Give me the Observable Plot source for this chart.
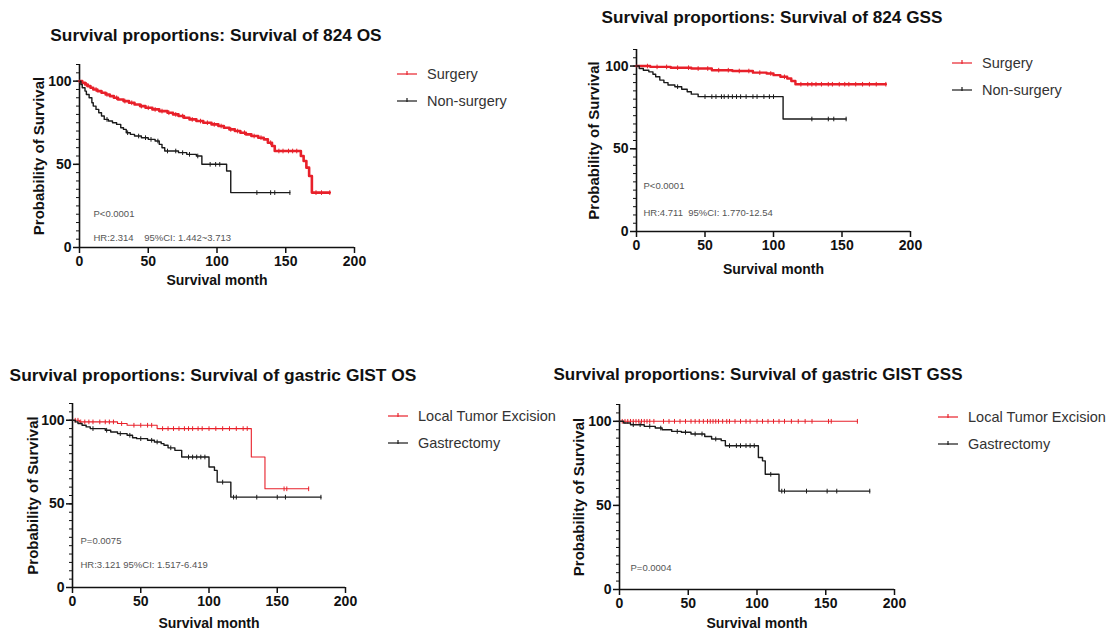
<!DOCTYPE html>
<html>
<head>
<meta charset="utf-8">
<script src="https://cdn.jsdelivr.net/npm/d3@7"></script>
<script src="https://cdn.jsdelivr.net/npm/@observablehq/plot@0.6"></script>
<style>
  body { margin: 0; background: #fff; }
  #root { position: relative; width: 1108px; height: 635px; background: #fff; font-family: "Liberation Sans", Arial, sans-serif; overflow: hidden; }
  .title { position: absolute; font-weight: bold; color: #111; white-space: nowrap; transform: translate(-50%, -50%); }
  .legend { position: absolute; font-size: 14.5px; color: #333; }
  .legend .row { display: flex; align-items: center; height: 27px; white-space: nowrap; }
  .legend svg { margin-right: 10px; }
  .panel { position: absolute; }
</style>
</head>
<body>
<div id="root"></div>
<script>
// ---------- tick labels ----------
const xTicks = [0, 50, 100, 150, 200];
const yTicks = [0, 50, 100];
const yMinorTicks = [0, 5, 10, 15, 20, 25, 30, 35, 40, 45, 50, 55, 60, 65, 70, 75, 80, 85, 90, 95, 100, 105, 110];

// ---------- titles / labels ----------
const titles = [
  "Survival proportions: Survival of 824 OS",
  "Survival proportions: Survival of 824 GSS",
  "Survival proportions: Survival of gastric GIST OS",
  "Survival proportions: Survival of gastric GIST GSS"
];
const groups824 = ["Surgery", "Non-surgery"];
const groupsGastric = ["Local Tumor Excision", "Gastrectomy"];
const statsOS824 = ["P<0.0001", "HR:2.314    95%CI: 1.442~3.713"];
const statsGSS824 = ["P<0.0001", "HR:4.711  95%CI: 1.770-12.54"];
const statsOSGastric = ["P=0.0075", "HR:3.121 95%CI: 1.517-6.419"];
const statsGSSGastric = ["P=0.0004"];

// ---------- Panel 1: 824 OS ----------
const os824SurgT = [0, 2, 4, 6, 8, 10, 13, 16, 19, 22, 25, 28, 32, 36, 40, 44, 48, 53, 58, 64, 68, 72, 76, 80, 85, 90, 96, 101, 105, 109, 113, 117, 121, 125, 130, 134, 137, 140, 142, 161, 163, 165, 167, 169];
const os824SurgS = [100, 99, 98, 97, 96, 95, 94, 93, 92, 91, 90, 89, 88, 87, 86, 85, 84, 83, 82, 81, 80, 79, 78, 77, 76, 75, 74, 73, 72, 71, 70, 69, 68, 67, 66, 65, 63, 61, 58, 55, 52, 48, 43, 33];
const os824SurgCens = [5, 12, 20, 27, 33, 38, 45, 50, 55, 60, 65, 70, 75, 82, 88, 93, 98, 103, 110, 115, 120, 127, 132, 139, 145, 148, 152, 155, 158, 172, 176, 182];
const os824NonT = [0, 1, 2, 4, 5, 7, 9, 10, 12, 14, 16, 18, 21, 24, 27, 30, 32, 34, 37, 40, 45, 50, 55, 58, 60, 62, 72, 78, 85, 89, 107, 110];
const os824NonS = [100, 98, 96, 94, 92, 90, 87, 85, 83, 81, 79, 77, 76, 75, 74, 72, 71, 69, 68, 67, 66, 65, 64, 62, 60, 58, 57, 56, 55, 50, 46, 33];
const os824NonCens = [20, 35, 43, 48, 52, 57, 64, 70, 75, 80, 86, 95, 99, 102, 129, 139, 142, 153];

// ---------- Panel 2: 824 GSS ----------
const gss824SurgT = [0, 10, 25, 40, 55, 70, 85, 95, 100, 105, 110, 113, 116];
const gss824SurgS = [100, 99.5, 99, 98.5, 97.5, 97, 96, 95.5, 94.5, 93.5, 92.5, 91, 89];
const gss824SurgCens = [8, 15, 22, 30, 38, 45, 52, 60, 67, 75, 82, 90, 98, 108, 120, 125, 128, 131, 135, 140, 143, 148, 152, 155, 160, 165, 170, 175, 182];
const gss824NonT = [0, 2, 5, 9, 12, 14, 17, 20, 23, 28, 33, 37, 40, 45, 107];
const gss824NonS = [100, 98.5, 97.5, 96.5, 95, 93.5, 91.5, 90, 88.5, 87.5, 86, 84.5, 83, 81.5, 68];
const gss824NonCens = [30, 50, 55, 58, 62, 64, 67, 70, 73, 76, 80, 85, 88, 93, 97, 100, 128, 140, 144, 153];

// ---------- Panel 3: gastric GIST OS ----------
const osGasLocalT = [0, 5, 33, 40, 62, 131, 141];
const osGasLocalS = [100, 99, 98, 97, 95, 78, 59];
const osGasLocalCens = [2, 4, 6, 9, 12, 15, 20, 24, 27, 30, 36, 45, 50, 55, 58, 66, 70, 74, 78, 82, 85, 88, 92, 95, 100, 105, 110, 115, 120, 125, 128, 155, 157, 173];
const osGasGastT = [0, 2, 4, 7, 10, 13, 24, 28, 33, 40, 44, 47, 55, 60, 65, 67, 70, 75, 80, 100, 104, 106, 116];
const osGasGastS = [100, 99, 98, 97, 96, 95, 94, 93, 92, 91, 89.5, 89, 88, 87, 86, 85, 83.5, 82, 78, 72, 70, 63, 54];
const osGasGastCens = [15, 25, 35, 42, 50, 58, 62, 72, 85, 88, 91, 94, 97, 110, 118, 120, 135, 150, 156, 182];

// ---------- Panel 4: gastric GIST GSS ----------
const gssGasLocalT = [0];
const gssGasLocalS = [100];
const gssGasLocalCens = [2, 4, 6, 8, 10, 12, 14, 16, 18, 20, 22, 25, 32, 36, 40, 44, 48, 52, 55, 58, 61, 64, 66, 68, 70, 72, 75, 78, 80, 84, 88, 92, 95, 100, 104, 108, 112, 116, 120, 125, 130, 135, 140, 152, 154, 173];
const gssGasGastT = [0, 3, 8, 18, 26, 31, 38, 45, 52, 62, 67, 74, 77, 101, 104, 106, 116];
const gssGasGastS = [100, 99, 98, 97, 96, 95, 94, 93.5, 92.5, 91, 89.5, 88.5, 85.5, 78.5, 76.5, 68.5, 58.5];
const gssGasGastCens = [10, 15, 22, 30, 42, 48, 55, 60, 70, 80, 85, 88, 92, 95, 98, 110, 118, 120, 136, 151, 158, 182];

// ---------- helpers ----------
const RED = "#e8202a", BLACK = "#1a1a1a";

function stepAt(ts, ss, t) {
  let v = ss[0];
  for (let i = 0; i < ts.length; i++) if (ts[i] <= t) v = ss[i];
  return v;
}
function curvePoints(ts, ss, cens) {
  const pts = ts.map((t, i) => ({t, s: ss[i]}));
  const last = Math.max(...cens, ...ts);
  pts.push({t: last, s: stepAt(ts, ss, last)});
  return pts;
}
function curveMarks(ts, ss, cens, color, width) {
  const cdat = cens.map(t => ({t, s: stepAt(ts, ss, t)}));
  return [
    Plot.line(curvePoints(ts, ss, cens), {x: "t", y: "s", curve: "step-after", stroke: color, strokeWidth: width}),
    Plot.link(cdat, {x1: "t", x2: "t", y1: d => d.s - 1.4, y2: d => d.s + 1.4, stroke: color, strokeWidth: 1})
  ];
}

const root = document.getElementById("root");
const ML = 60, MR = 20, MT = 10, MB = 50;

function panel(cfg) {
  const w = ML + (cfg.x200 - cfg.x0) + MR;
  const h = MT + (cfg.y0 - cfg.y110) + MB;
  const chart = Plot.plot({
    width: w, height: h,
    marginLeft: ML, marginRight: MR, marginTop: MT, marginBottom: MB,
    x: {domain: [0, 200]},
    y: {domain: [0, 110]},
    style: {fontFamily: "'Liberation Sans', Arial, sans-serif", fontSize: "14px", background: "transparent", color: "#111", overflow: "visible"},
    marks: [
      Plot.axisY({ticks: yMinorTicks, tickSize: 3, text: null, label: null, strokeWidth: 1}),
      Plot.axisY({ticks: yTicks, tickSize: 6, tickPadding: 2, strokeWidth: 1.5, fontWeight: "bold", fontSize: 14, label: null}),
      Plot.axisY({ticks: [], tickSize: 0, fontWeight: "bold", fontSize: 15,
        label: "Probability of Survival", labelAnchor: "center", labelOffset: cfg.yLabOff, labelArrow: "none"}),
      Plot.axisX({ticks: xTicks, tickSize: 6, tickPadding: 3, strokeWidth: 1.5, fontWeight: "bold", fontSize: 14,
        label: "Survival month", labelAnchor: "center", labelOffset: cfg.xLabOff, labelArrow: "none"}),
      Plot.ruleX([0], {y1: 0, y2: 110, strokeWidth: 1.6, stroke: "#111"}),
      Plot.ruleY([0], {x1: 0, x2: 200, strokeWidth: 1.6, stroke: "#111"}),
      ...cfg.curves.flatMap(c => curveMarks(c.t, c.s, c.cens, c.color, c.width)),
      ...cfg.stats.map((txt, i) => Plot.text([txt], {frameAnchor: "bottom-left", dx: cfg.statDx, dy: cfg.statDy[i],
        textAnchor: "start", lineAnchor: "middle", fontSize: 9.5, fontWeight: "normal", fill: "#555"}))
    ]
  });
  const d = document.createElement("div");
  d.className = "panel";
  d.style.left = (cfg.x0 - ML) + "px";
  d.style.top = (cfg.y110 - MT) + "px";
  d.appendChild(chart);
  root.appendChild(d);

  const t = document.createElement("div");
  t.className = "title";
  t.style.left = cfg.titleX + "px";
  t.style.top = cfg.titleY + "px";
  t.style.fontSize = cfg.titleSize + "px";
  t.textContent = cfg.title;
  root.appendChild(t);

  const lg = document.createElement("div");
  lg.className = "legend";
  lg.style.left = cfg.legX + "px";
  lg.style.top = cfg.legY + "px";
  cfg.groups.forEach((g, i) => {
    const color = cfg.curves[i].color;
    const row = document.createElement("div");
    row.className = "row";
    row.innerHTML = `<svg width="20" height="10"><line x1="0" y1="5" x2="20" y2="5" stroke="${color}" stroke-width="1.2"/><line x1="10" y1="2" x2="10" y2="6" stroke="${color}" stroke-width="1.2"/></svg><span>${g}</span>`;
    lg.appendChild(row);
  });
  root.appendChild(lg);
}

panel({
  x0: 79, x200: 354, y0: 247, y110: 64, yLabOff: 46, xLabOff: 37,
  title: titles[0], titleX: 216, titleY: 35, titleSize: 17.3,
  groups: groups824, legX: 397, legY: 60,
  stats: statsOS824, statDx: 14, statDy: [-34, -10],
  curves: [
    {t: os824SurgT, s: os824SurgS, cens: os824SurgCens, color: RED, width: 2.6},
    {t: os824NonT, s: os824NonS, cens: os824NonCens, color: BLACK, width: 1.4}
  ]
});
panel({
  x0: 636, x200: 910, y0: 231, y110: 49, yLabOff: 48, xLabOff: 42,
  title: titles[1], titleX: 772, titleY: 17, titleSize: 17.2,
  groups: groups824, legX: 952, legY: 49,
  stats: statsGSS824, statDx: 7, statDy: [-46, -19],
  curves: [
    {t: gss824SurgT, s: gss824SurgS, cens: gss824SurgCens, color: RED, width: 2.4},
    {t: gss824NonT, s: gss824NonS, cens: gss824NonCens, color: BLACK, width: 1.4}
  ]
});
panel({
  x0: 72, x200: 345, y0: 587, y110: 403, yLabOff: 45, xLabOff: 40,
  title: titles[2], titleX: 213, titleY: 375, titleSize: 17.4,
  groups: groupsGastric, legX: 388, legY: 402,
  stats: statsOSGastric, statDx: 8, statDy: [-47, -23],
  curves: [
    {t: osGasLocalT, s: osGasLocalS, cens: osGasLocalCens, color: RED, width: 1.1},
    {t: osGasGastT, s: osGasGastS, cens: osGasGastCens, color: BLACK, width: 1.4}
  ]
});
panel({
  x0: 619, x200: 894, y0: 589, y110: 404, yLabOff: 46, xLabOff: 38,
  title: titles[3], titleX: 758, titleY: 375, titleSize: 17,
  groups: groupsGastric, legX: 938, legY: 403,
  stats: statsGSSGastric, statDx: 11, statDy: [-22],
  curves: [
    {t: gssGasLocalT, s: gssGasLocalS, cens: gssGasLocalCens, color: RED, width: 1.1},
    {t: gssGasGastT, s: gssGasGastS, cens: gssGasGastCens, color: BLACK, width: 1.4}
  ]
});
</script>
</body>
</html>
